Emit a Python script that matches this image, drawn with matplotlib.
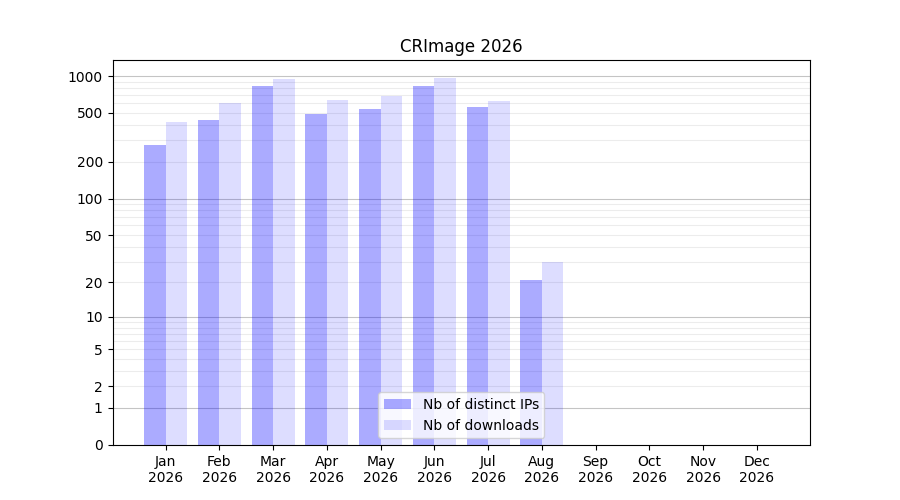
import numpy as np
import matplotlib
matplotlib.use("Agg")
import matplotlib.pyplot as plt

months = ["Jan", "Feb", "Mar", "Apr", "May", "Jun", "Jul", "Aug", "Sep", "Oct", "Nov", "Dec"]
year = "2026"
ips = [274, 438, 829, 490, 539, 829, 559, 21, 0, 0, 0, 0]
downloads = [422, 602, 945, 638, 691, 963, 626, 30, 0, 0, 0, 0]
yticks = [0, 1, 2, 5, 10, 20, 50, 100, 200, 500, 1000]
minor = [3, 4, 6, 7, 8, 9, 30, 40, 60, 70, 80, 90, 300, 400, 600, 700, 800, 900]

fig, ax = plt.subplots(figsize=(9, 5), dpi=100)
ax.set_yscale("function", functions=(lambda v: np.log10(np.maximum(v, 0) + 1),
                                     lambda v: 10 ** v - 1))
ax.set_axisbelow(True)
x = np.arange(len(months))
ax.bar(x - 0.2, ips, width=0.4, color="blue", alpha=0.33, label="Nb of distinct IPs")
ax.bar(x + 0.2, downloads, width=0.4, color="blue", alpha=0.135, label="Nb of downloads")

ax.set_xticks(x)
ax.set_xticklabels([f"{m}\n{year}" for m in months])
ax.set_yticks(yticks)
ax.set_yticklabels([str(t) for t in yticks])
ax.set_yticks(minor, minor=True)
ax.tick_params(axis="y", which="minor", length=0)
ax.set_ylim(0, 1350)
ax.yaxis.grid(True, which="both", color="black", alpha=0.075, linewidth=0.8)
for t, gl in zip(yticks, ax.get_ygridlines()):
    if t in (1, 10, 100, 1000):
        gl.set_alpha(0.23)
    elif t == 0:
        gl.set_visible(False)
ax.set_title("CRImage 2026")
ax.legend(loc="lower center")
fig.savefig("out.png")
